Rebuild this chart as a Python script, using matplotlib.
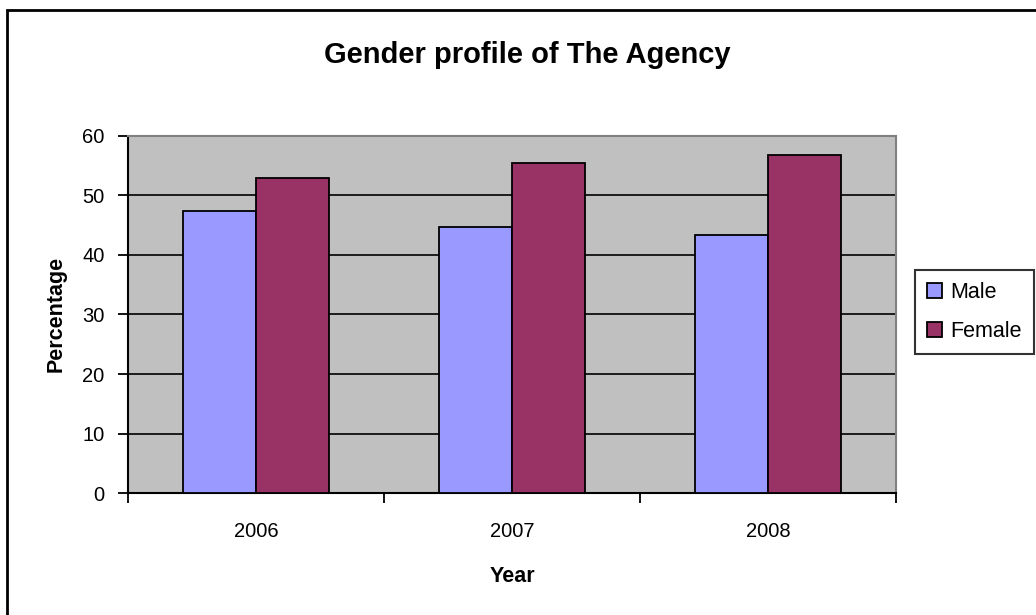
import matplotlib
matplotlib.use("Agg")
import matplotlib.pyplot as plt
import numpy as np
from matplotlib.patches import Rectangle

years = ["2006", "2007", "2008"]
male = [47.3, 44.6, 43.3]
female = [52.8, 55.4, 56.7]
series_names = ["Male", "Female"]
colors = ["#9999FF", "#993366"]
yticks = [0, 10, 20, 30, 40, 50, 60]

plt.rcParams['font.family'] = ['Liberation Sans', 'DejaVu Sans']

fig = plt.figure(figsize=(10.36, 6.15), dpi=100)
ax = fig.add_axes([128/1036, 1-493.3/615, (896-128)/1036, (493.3-135.5)/615])
ax.set_facecolor("#C0C0C0")

x = np.arange(len(years))
w = 1/3.5
b1 = ax.bar(x - w/2, male, w, color=colors[0], edgecolor="black", linewidth=1.3, label=series_names[0], zorder=3)
b2 = ax.bar(x + w/2, female, w, color=colors[1], edgecolor="black", linewidth=1.3, label=series_names[1], zorder=3)

ax.set_xlim(-0.5, len(years) - 0.5)
ax.set_ylim(0, 60)
ax.set_yticks(yticks)
ax.set_yticklabels([str(t) for t in yticks], fontsize=14.5)
for t in yticks[1:-1]:
    ax.axhline(t, color="black", linewidth=1.2, zorder=1)

ax.set_xticks(x)
ax.set_xticklabels(years, fontsize=14.5)
ax.tick_params(axis='x', which='major', length=0, pad=21)
ax.set_xticks(np.arange(-0.5, len(years)), minor=True)
ax.tick_params(axis='x', which='minor', length=7, width=1.3, direction='out')
ax.tick_params(axis='y', length=7, width=1.3, direction='out', pad=10)

for s in ["top", "right"]:
    ax.spines[s].set_color("#808080")
    ax.spines[s].set_linewidth(1.5)
for s in ["left", "bottom"]:
    ax.spines[s].set_color("black")
    ax.spines[s].set_linewidth(1.5)

ax.set_xlabel("Year", fontsize=15.5, fontweight="bold", labelpad=18)
ax.set_ylabel("Percentage", fontsize=15.5, fontweight="bold", labelpad=11)
fig.text(527/1036, 1-55/615, "Gender profile of The Agency", fontsize=21, fontweight="bold",
         ha="center", va="center")

leg = fig.legend(handles=[b1, b2], labels=series_names, loc="upper left",
                 bbox_to_anchor=(915/1036, 1-270/615), fontsize=15.5, frameon=True,
                 fancybox=False, edgecolor="black", handlelength=0.7, handleheight=0.7,
                 handletextpad=0.4, borderpad=0.55, labelspacing=0.85, borderaxespad=0)
leg.get_frame().set_linewidth(1.5)

border = Rectangle((7/1036, -0.2), 1.5, 1.2 - 10/615, transform=fig.transFigure,
                   fill=False, edgecolor="black", linewidth=2, clip_on=False)
fig.patches.append(border)

fig.savefig("out.png", dpi=100)
